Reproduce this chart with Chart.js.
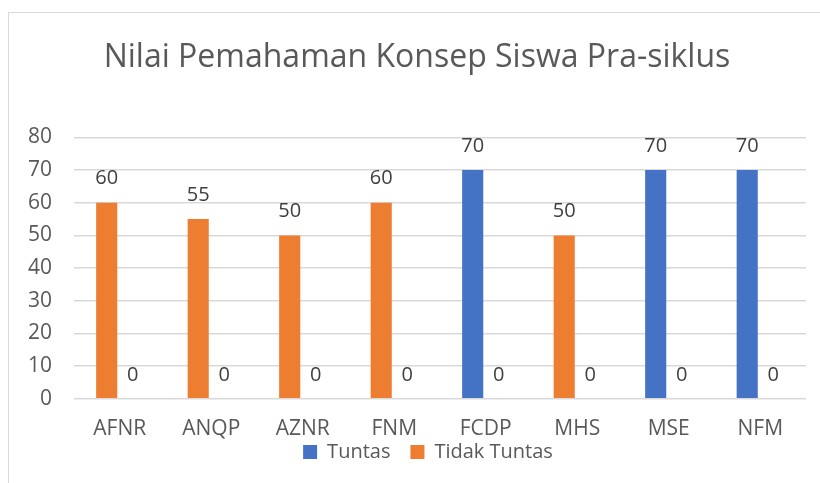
<!DOCTYPE html>
<html>
<head>
<meta charset="utf-8">
<script src="https://cdn.jsdelivr.net/npm/chart.js@4.4.1/dist/chart.umd.min.js"></script>
<style>
  html, body { margin: 0; padding: 0; background: #fff; }
  #wrap { width: 820px; height: 483px; position: relative; }
</style>
</head>
<body>
<div id="wrap"><canvas id="chart" width="820" height="483"></canvas></div>
<script>
const categories = ['AFNR', 'ANQP', 'AZNR', 'FNM', 'FCDP', 'MHS', 'MSE', 'NFM'];
const nilai = [60, 55, 50, 60, 70, 50, 70, 70];
const nilaiKedua = [0, 0, 0, 0, 0, 0, 0, 0];
const yTicks = [0, 10, 20, 30, 40, 50, 60, 70, 80];
const batasTuntas = 70;

const BLUE = '#4472C4';
const ORANGE = '#ED7D31';
const legendColors = [BLUE, ORANGE];
const FONT = "'Open Sans', sans-serif";

// draw the value above each bar (no datalabels plugin available offline)
const valueLabels = {
    id: 'valueLabels',
    afterDatasetsDraw(chart) {
        const ctx = chart.ctx;
        ctx.save();
        ctx.font = `20px ${FONT}`;
        ctx.fillStyle = '#404040';
        ctx.textAlign = 'center';
        ctx.textBaseline = 'middle';
        chart.data.datasets.forEach((ds, i) => {
            chart.getDatasetMeta(i).data.forEach((bar, j) => {
                ctx.fillText(ds.data[j], bar.x, bar.y - 24);
            });
        });
        ctx.restore();
    }
};

const outerBorder = {
    id: 'outerBorder',
    beforeDraw(chart) {
        const ctx = chart.ctx;
        ctx.save();
        ctx.strokeStyle = '#d9d9d9';
        ctx.lineWidth = 1;
        ctx.strokeRect(8.5, 12.5, 900, 900);
        ctx.restore();
    }
};

// pull the legend up close under the category labels, like the excel chart
const legendPlace = {
    id: 'legendPlace',
    afterLayout(chart) {
        const lg = chart.legend;
        lg.top = 422;
        lg.bottom = lg.top + 60;
        lg.height = 60;
        lg.left += 22;
    }
};

new Chart(document.getElementById('chart'), {
    type: 'bar',
    data: {
        labels: categories,
        datasets: [{
            label: 'Tuntas',
            data: nilai,
            backgroundColor: (c) => (c.raw >= batasTuntas ? BLUE : ORANGE),
            categoryPercentage: 0.57,
            barPercentage: 0.81
        }, {
            label: 'Tidak Tuntas',
            data: nilaiKedua,
            backgroundColor: ORANGE,
            categoryPercentage: 0.57,
            barPercentage: 0.81
        }]
    },
    options: {
        responsive: false,
        animation: false,
        layout: { padding: { left: 28, right: 14, top: 0, bottom: 3 } },
        plugins: {
            title: {
                display: true,
                text: 'Nilai Pemahaman Konsep Siswa Pra-siklus',
                color: '#595959',
                font: { family: FONT, size: 32, weight: 'normal' },
                padding: { top: 39, bottom: 60 }
            },
            legend: {
                position: 'bottom',
                maxHeight: 20,
                labels: {
                    color: '#595959',
                    font: { family: FONT, size: 20 },
                    boxWidth: 14,
                    boxHeight: 14,
                    padding: 20,
                    generateLabels: (chart) => Chart.defaults.plugins.legend.labels.generateLabels(chart)
                        .map((item, i) => ({ ...item, fillStyle: legendColors[i], strokeStyle: legendColors[i] }))
                }
            },
            tooltip: { enabled: false }
        },
        scales: {
            x: {
                grid: { display: false, drawTicks: false },
                border: { display: false },
                ticks: { color: '#595959', font: { family: FONT, size: 21 }, padding: 18 }
            },
            y: {
                min: 0,
                max: 80,
                afterBuildTicks: (scale) => { scale.ticks = yTicks.map(v => ({ value: v })); },
                grid: { color: '#d9d9d9', lineWidth: 1.5, drawTicks: false },
                border: { display: false },
                ticks: { color: '#595959', font: { family: FONT, size: 21 }, padding: 22 },
                afterFit: (scale) => { scale.width = 46; }
            }
        }
    },
    plugins: [outerBorder, valueLabels, legendPlace]
});
</script>
</body>
</html>
